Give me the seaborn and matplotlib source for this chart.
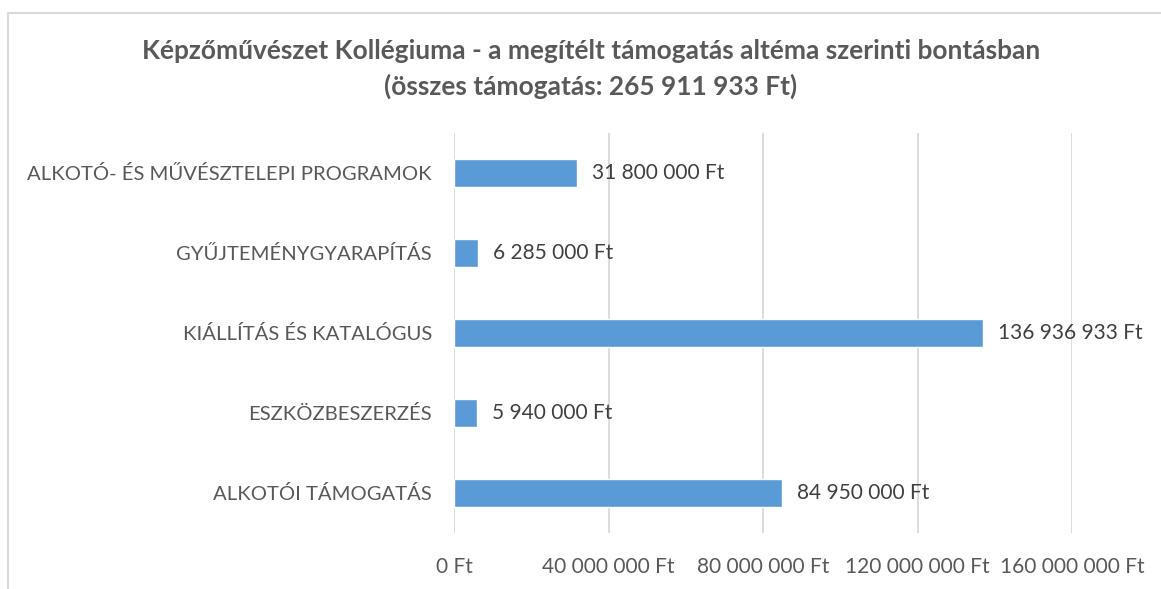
import seaborn as sns
import pandas as pd
import matplotlib.pyplot as plt
from matplotlib.lines import Line2D
from matplotlib.ticker import FuncFormatter

#%% Data
categories = ["ALKOTÓ- ÉS MŰVÉSZTELEPI PROGRAMOK",
              "GYŰJTEMÉNYGYARAPÍTÁS",
              "KIÁLLÍTÁS ÉS KATALÓGUS",
              "ESZKÖZBESZERZÉS",
              "ALKOTÓI TÁMOGATÁS"]
amounts = [31800000, 6285000, 136936933, 5940000, 84950000]
x_ticks = [0, 40000000, 80000000, 120000000, 160000000]

df = pd.DataFrame({"cat": categories, "amount": amounts})

def ft(v):
    return "{:,.0f} Ft".format(v).replace(",", " ")

#%% Theme
sns.set_style("white")
plt.rcParams['font.family'] = ['Lato', 'DejaVu Sans']

fig = plt.figure(figsize=(11.61, 5.89), dpi=100)
ax = fig.add_axes([454 / 1161, 1 - 533 / 589, (1072 - 454) / 1161, 400 / 589])

sns.barplot(data=df, y="cat", x="amount", color="#5B9BD5",
            width=0.36, saturation=1, ax=ax, orient="h")

# data labels
for i, v in enumerate(amounts):
    ax.text(v + 3900000, i, ft(v), va="center", ha="left",
            fontsize=15, color="#404040")

ax.set_xlim(0, 160000000)
ax.set_xticks(x_ticks)
ax.xaxis.set_major_formatter(FuncFormatter(lambda v, p: ft(v)))
ax.grid(axis="x", color="#D9D9D9", lw=1.3)
ax.set_axisbelow(True)
ax.set_xlabel("")
ax.set_ylabel("")
for s in ax.spines.values():
    s.set_visible(False)
ax.tick_params(axis="x", length=0, pad=17, labelsize=15, labelcolor="#595959")
ax.tick_params(axis="y", length=0, pad=16, labelsize=14.6, labelcolor="#595959")

# title
fig.text(591 / 1161, 1 - 69 / 589,
         "Képzőművészet Kollégiuma - a megítélt támogatás altéma szerinti bontásban\n"
         "(összes támogatás: 265 911 933 Ft)",
         ha="center", va="center", fontsize=18.9, fontweight="bold",
         color="#595959", linespacing=1.55)

# chart border (left and top edges visible)
x0 = 8 / 1161
y0 = 1 - 12.5 / 589
fig.add_artist(Line2D([x0, x0, 1], [0, y0, y0], transform=fig.transFigure,
                      color="#D9D9D9", lw=1.5))

plt.savefig("out.png", dpi=100)
